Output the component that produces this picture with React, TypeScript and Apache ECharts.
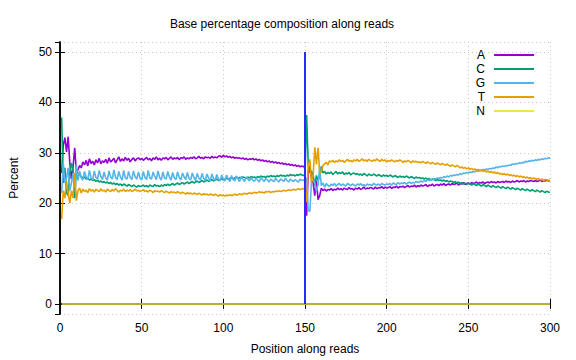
import React, { useEffect, useRef } from "react";
import * as echarts from "echarts";

const titleText = "Base percentage composition along reads";
const baseNames = ["A", "C", "G", "T", "N"];
const baseColors = ["#9400d3", "#009e73", "#56b4e9", "#e69f00", "#f0e442"];
const xTicks = [0, 50, 100, 150, 200, 250, 300];

const aValues = [
  26.0, 31.5, 33.0, 30.2, 33.2, 28.0, 24.8, 27.2, 31.0, 26.3,
  26.6, 27.5, 27.0, 28.2, 27.6, 28.5, 27.4, 28.8, 27.9, 28.3,
  27.6, 28.6, 28.0, 28.9, 27.8, 28.4, 28.1, 28.7, 27.9, 29.0,
  28.2, 28.5, 28.9, 28.0, 28.6, 29.2, 28.3, 28.8, 28.4, 29.1,
  28.5, 28.9, 28.2, 28.7, 29.0, 28.4, 28.8, 29.0, 28.6, 28.9,
  28.5, 28.8, 29.1, 28.6, 28.9, 28.4, 29.0, 28.7, 29.2, 28.6,
  28.9, 28.5, 29.0, 28.8, 29.1, 28.6, 28.9, 29.2, 28.7, 29.0,
  28.8, 29.1, 28.6, 29.0, 28.9, 29.2, 28.7, 29.0, 28.8, 29.1,
  28.9, 29.2, 28.8, 29.0, 29.3, 28.9, 29.1, 28.8, 29.2, 29.0,
  29.1, 28.9, 29.3, 29.0, 29.2, 29.0, 29.3, 29.4, 29.1, 29.5,
  29.2, 29.4, 29.1, 29.3, 29.0, 29.2, 28.9, 29.1, 28.9, 29.0,
  28.8, 29.0, 28.7, 28.9, 28.6, 28.8, 28.7, 28.9, 28.6, 28.8,
  28.5, 28.7, 28.4, 28.6, 28.3, 28.5, 28.2, 28.4, 28.1, 28.3,
  28.0, 28.2, 27.9, 28.1, 27.8, 28.0, 27.7, 27.9, 27.6, 27.8,
  27.5, 27.7, 27.4, 27.6, 27.3, 27.5, 27.2, 27.4, 27.3, 27.0,
  17.5, 26.5, 27.3, 25.0, 24.0, 21.5, 24.5, 20.7, 21.5, 23.0,
  22.5, 22.8, 22.4, 22.7, 22.6, 22.9, 22.5, 22.8, 22.6, 23.0,
  22.7, 22.9, 22.6, 23.0, 22.8, 22.7, 23.1, 22.8, 22.9, 22.6,
  23.0, 22.8, 23.1, 22.7, 22.9, 23.2, 22.8, 23.0, 22.9, 23.1,
  23.0, 22.8, 23.2, 22.9, 23.1, 23.0, 23.3, 22.9, 23.2, 23.0,
  23.1, 23.3, 22.9, 23.2, 23.1, 23.4, 23.0, 23.3, 23.2, 23.4,
  23.1, 23.3, 23.5, 23.2, 23.4, 23.3, 23.6, 23.2, 23.5, 23.3,
  23.6, 23.4, 23.5, 23.7, 23.3, 23.6, 23.5, 23.8, 23.4, 23.6,
  23.7, 23.5, 23.8, 23.6, 23.9, 23.5, 23.7, 23.8, 23.6, 23.9,
  23.7, 23.8, 24.0, 23.6, 23.9, 23.8, 24.1, 23.7, 23.9, 24.0,
  23.8, 24.1, 23.9, 24.0, 24.2, 23.9, 24.1, 24.0, 24.2, 23.9,
  24.1, 24.2, 24.0, 24.3, 24.1, 24.2, 24.0, 24.3, 24.1, 24.2,
  24.3, 24.1, 24.4, 24.2, 24.3, 24.1, 24.4, 24.2, 24.3, 24.5,
  24.2, 24.4, 24.3, 24.5, 24.2, 24.4, 24.3, 24.5, 24.4, 24.3,
  24.5, 24.3, 24.4, 24.6, 24.3, 24.5, 24.4, 24.6, 24.4, 24.5,
];

const cValues = [
  37.0, 24.0, 27.0, 22.0, 21.5, 26.0, 28.0, 26.5, 21.0, 26.5,
  26.0, 25.6, 25.3, 25.0, 25.2, 24.8, 25.0, 24.6, 24.8, 24.5,
  24.7, 24.3, 24.6, 24.2, 24.4, 24.1, 24.3, 24.0, 24.2, 23.9,
  24.1, 23.8, 24.0, 23.7, 23.9, 23.6, 23.8, 23.5, 23.8, 23.6,
  23.4, 23.7, 23.5, 23.3, 23.6, 23.4, 23.2, 23.5, 23.3, 23.4,
  23.6, 23.3, 23.5, 23.2, 23.6, 23.4, 23.3, 23.7, 23.4, 23.5,
  23.3, 23.6, 23.4, 23.7, 23.5, 23.8, 23.5, 23.7, 23.9, 23.6,
  23.8, 24.0, 23.7, 23.9, 24.1, 23.8, 24.0, 24.2, 23.9, 24.1,
  24.3, 24.0, 24.2, 24.4, 24.1, 24.3, 24.5, 24.2, 24.4, 24.6,
  24.3, 24.5, 24.7, 24.4, 24.6, 24.8, 24.5, 24.7, 24.9, 24.6,
  24.8, 25.0, 24.7, 24.9, 25.1, 24.8, 25.0, 25.2, 24.9, 25.1,
  25.0, 25.2, 25.1, 24.9, 25.2, 25.0, 25.3, 25.1, 25.2, 25.0,
  25.3, 25.1, 25.4, 25.2, 25.3, 25.1, 25.4, 25.2, 25.5, 25.3,
  25.4, 25.2, 25.5, 25.3, 25.6, 25.4, 25.5, 25.3, 25.6, 25.4,
  25.7, 25.5, 25.6, 25.4, 25.7, 25.5, 25.8, 25.6, 25.5, 25.7,
  37.5, 27.5, 26.0, 26.4, 25.5, 23.5, 25.5, 24.5, 25.5, 27.3,
  26.0, 26.3, 25.8, 26.1, 25.9, 26.2, 25.7, 26.0, 26.3, 25.8,
  26.1, 25.9, 26.2, 25.7, 26.0, 25.8, 26.1, 25.6, 25.9, 26.0,
  25.7, 25.9, 25.6, 25.8, 25.5, 25.9, 25.7, 25.4, 25.8, 25.6,
  25.5, 25.8, 25.6, 25.4, 25.7, 25.5, 25.3, 25.6, 25.4, 25.5,
  25.3, 25.6, 25.4, 25.2, 25.5, 25.3, 25.1, 25.4, 25.2, 25.3,
  25.1, 25.4, 25.2, 25.0, 25.3, 25.1, 24.9, 25.2, 25.0, 25.1,
  24.9, 25.0, 24.8, 25.0, 24.7, 24.9, 24.6, 24.8, 24.7, 24.5,
  24.7, 24.5, 24.6, 24.4, 24.6, 24.3, 24.5, 24.2, 24.4, 24.3,
  24.1, 24.3, 24.0, 24.2, 23.9, 24.1, 23.8, 24.0, 23.7, 23.9,
  23.8, 23.6, 23.9, 23.7, 23.5, 23.8, 23.6, 23.4, 23.7, 23.5,
  23.3, 23.6, 23.4, 23.2, 23.5, 23.3, 23.1, 23.4, 23.2, 23.0,
  23.3, 23.1, 22.9, 23.2, 23.0, 22.8, 23.1, 22.9, 22.7, 23.0,
  22.8, 22.6, 22.9, 22.7, 22.5, 22.8, 22.6, 22.4, 22.7, 22.5,
  22.3, 22.6, 22.4, 22.2, 22.5, 22.3, 22.1, 22.4, 22.2, 22.1,
];

const gValues = [
  22.0, 28.0, 24.0, 25.0, 27.0, 22.5, 24.0, 26.0, 23.5, 27.7,
  24.5, 26.4, 25.0, 24.6, 26.3, 25.2, 24.7, 26.5, 25.0, 24.6,
  26.4, 25.1, 24.8, 26.5, 25.3, 24.7, 26.2, 25.0, 24.6, 26.4,
  25.2, 24.8, 26.6, 25.1, 24.7, 26.3, 25.2, 24.6, 26.5, 25.0,
  24.8, 26.3, 25.1, 24.7, 26.4, 25.2, 24.8, 26.2, 25.0, 24.6,
  26.3, 25.1, 24.7, 26.5, 25.0, 24.8, 26.2, 25.3, 24.7, 26.4,
  25.1, 24.6, 26.2, 25.0, 24.8, 26.3, 25.2, 24.6, 26.1, 25.0,
  24.7, 26.2, 25.1, 24.6, 26.0, 25.2, 24.7, 26.1, 24.9, 24.6,
  26.0, 25.1, 24.5, 25.9, 25.0, 24.6, 25.9, 24.9, 24.5, 25.8,
  25.0, 24.4, 25.8, 24.9, 24.5, 25.7, 24.8, 24.4, 25.6, 24.9,
  24.4, 25.6, 24.8, 24.3, 25.5, 24.7, 24.4, 25.4, 24.8, 24.3,
  25.3, 24.7, 24.3, 25.2, 24.8, 24.4, 25.1, 24.6, 24.3, 25.0,
  24.6, 24.2, 25.0, 24.7, 24.3, 24.9, 24.6, 24.2, 24.8, 24.5,
  24.3, 24.9, 24.5, 24.2, 24.8, 24.6, 24.3, 24.9, 24.5, 24.2,
  24.8, 24.5, 24.3, 24.7, 24.4, 24.2, 24.8, 24.5, 24.6, 24.4,
  25.0, 18.5, 18.4, 24.5, 24.7, 24.0, 22.3, 23.7, 27.0, 23.5,
  24.0, 23.2, 23.9, 23.6, 23.3, 23.8, 23.5, 23.9, 23.4, 23.7,
  23.9, 23.5, 23.8, 23.6, 23.4, 23.9, 23.7, 23.5, 23.8, 23.6,
  23.4, 23.8, 23.6, 23.9, 23.5, 23.7, 23.4, 23.8, 23.6, 23.7,
  23.5, 23.9, 23.7, 23.6, 23.8, 23.5, 23.9, 23.7, 23.6, 23.8,
  23.7, 23.9, 23.6, 24.0, 23.8, 23.7, 24.1, 23.8, 24.0, 23.9,
  24.1, 23.8, 24.0, 24.2, 23.9, 24.1, 24.0, 24.3, 24.1, 24.2,
  24.4, 24.2, 24.5, 24.3, 24.6, 24.5, 24.7, 24.6, 24.9, 24.8,
  25.0, 24.9, 25.1, 25.0, 25.3, 25.1, 25.4, 25.2, 25.5, 25.4,
  25.6, 25.5, 25.7, 25.6, 25.9, 25.7, 26.0, 25.9, 26.1, 26.0,
  26.2, 26.1, 26.3, 26.2, 26.5, 26.3, 26.6, 26.5, 26.7, 26.6,
  26.8, 26.7, 26.9, 26.8, 27.0, 26.9, 27.2, 27.0, 27.3, 27.2,
  27.4, 27.3, 27.5, 27.4, 27.6, 27.5, 27.8, 27.7, 27.9, 27.8,
  28.0, 27.9, 28.1, 28.0, 28.3, 28.2, 28.4, 28.3, 28.5, 28.4,
  28.6, 28.5, 28.7, 28.6, 28.8, 28.7, 28.9, 28.8, 29.0, 29.0,
];

const tValues = [
  16.8, 22.5, 21.0, 24.5, 22.0, 20.0, 22.5, 21.0, 26.0, 20.5,
  22.5, 23.0, 22.0, 22.8, 22.3, 22.6, 22.1, 22.9, 22.4, 22.7,
  22.2, 22.8, 22.5, 22.3, 22.9, 22.4, 22.6, 22.2, 22.8, 22.5,
  22.3, 22.7, 22.4, 22.9, 22.5, 22.2, 22.6, 22.4, 22.8, 22.3,
  22.6, 22.4, 22.7, 22.3, 22.5, 22.8, 22.4, 22.6, 22.3, 22.5,
  22.7, 22.3, 22.5, 22.2, 22.6, 22.4, 22.1, 22.5, 22.3, 22.4,
  22.2, 22.5, 22.3, 22.1, 22.4, 22.2, 22.0, 22.3, 22.1, 22.2,
  22.0, 22.3, 22.1, 21.9, 22.2, 22.0, 21.8, 22.1, 21.9, 22.0,
  21.8, 22.0, 21.9, 21.7, 22.0, 21.8, 21.6, 21.9, 21.7, 21.8,
  21.6, 21.8, 21.7, 21.5, 21.8, 21.6, 21.4, 21.7, 21.5, 21.6,
  21.4, 21.6, 21.5, 21.7, 21.5, 21.6, 21.8, 21.6, 21.7, 21.9,
  21.7, 21.8, 22.0, 21.8, 21.9, 22.1, 21.9, 22.0, 22.2, 22.0,
  22.1, 22.3, 22.1, 22.2, 22.0, 22.3, 22.2, 22.4, 22.1, 22.3,
  22.2, 22.4, 22.3, 22.5, 22.3, 22.4, 22.6, 22.4, 22.5, 22.7,
  22.5, 22.6, 22.8, 22.6, 22.7, 22.9, 22.7, 22.8, 22.9, 22.8,
  20.2, 27.5, 28.7, 24.0, 25.7, 31.1, 27.7, 31.0, 26.0, 26.2,
  27.5, 27.8, 28.1, 27.6, 28.4, 28.2, 28.5, 28.1, 28.4, 28.2,
  28.6, 28.3, 28.5, 28.1, 28.4, 28.7, 28.3, 28.5, 28.2, 28.6,
  28.4, 28.7, 28.3, 28.5, 28.8, 28.4, 28.6, 28.3, 28.7, 28.5,
  28.3, 28.6, 28.4, 28.8, 28.5, 28.3, 28.7, 28.4, 28.6, 28.2,
  28.5, 28.3, 28.6, 28.4, 28.2, 28.5, 28.3, 28.6, 28.4, 28.1,
  28.4, 28.2, 28.5, 28.3, 28.0, 28.4, 28.2, 28.3, 28.1, 28.2,
  28.0, 28.3, 28.1, 27.9, 28.2, 28.0, 27.8, 28.1, 27.9, 27.7,
  28.0, 27.8, 27.6, 27.9, 27.7, 27.5, 27.8, 27.5, 27.3, 27.6,
  27.4, 27.2, 27.5, 27.3, 27.0, 27.2, 26.9, 27.1, 26.8, 27.0,
  26.7, 26.9, 26.6, 26.8, 26.5, 26.7, 26.4, 26.6, 26.3, 26.5,
  26.2, 26.4, 26.1, 26.3, 26.0, 26.2, 25.9, 26.1, 25.8, 25.9,
  25.7, 25.9, 25.6, 25.8, 25.5, 25.7, 25.4, 25.6, 25.3, 25.5,
  25.2, 25.4, 25.1, 25.3, 25.0, 25.2, 24.9, 25.1, 24.8, 25.0,
  24.9, 24.7, 24.9, 24.6, 24.8, 24.5, 24.7, 24.6, 24.5, 24.6,
];

const nValues = [
  0, 0, 0, 0, 0, 0, 0, 0, 0, 0, 0, 0, 0, 0, 0, 0, 0, 0, 0, 0,
  0, 0, 0, 0, 0, 0, 0, 0, 0, 0, 0, 0, 0, 0, 0, 0, 0, 0, 0, 0,
  0, 0, 0, 0, 0, 0, 0, 0, 0, 0, 0, 0, 0, 0, 0, 0, 0, 0, 0, 0,
  0, 0, 0, 0, 0, 0, 0, 0, 0, 0, 0, 0, 0, 0, 0, 0, 0, 0, 0, 0,
  0, 0, 0, 0, 0, 0, 0, 0, 0, 0, 0, 0, 0, 0, 0, 0, 0, 0, 0, 0,
  0, 0, 0, 0, 0, 0, 0, 0, 0, 0, 0, 0, 0, 0, 0, 0, 0, 0, 0, 0,
  0, 0, 0, 0, 0, 0, 0, 0, 0, 0, 0, 0, 0, 0, 0, 0, 0, 0, 0, 0,
  0, 0, 0, 0, 0, 0, 0, 0, 0, 0, 0, 0, 0, 0, 0, 0, 0, 0, 0, 0,
  0, 0, 0, 0, 0, 0, 0, 0, 0, 0, 0, 0, 0, 0, 0, 0, 0, 0, 0, 0,
  0, 0, 0, 0, 0, 0, 0, 0, 0, 0, 0, 0, 0, 0, 0, 0, 0, 0, 0, 0,
  0, 0, 0, 0, 0, 0, 0, 0, 0, 0, 0, 0, 0, 0, 0, 0, 0, 0, 0, 0,
  0, 0, 0, 0, 0, 0, 0, 0, 0, 0, 0, 0, 0, 0, 0, 0, 0, 0, 0, 0,
  0, 0, 0, 0, 0, 0, 0, 0, 0, 0, 0, 0, 0, 0, 0, 0, 0, 0, 0, 0,
  0, 0, 0, 0, 0, 0, 0, 0, 0, 0, 0, 0, 0, 0, 0, 0, 0, 0, 0, 0,
  0, 0, 0, 0, 0, 0, 0, 0, 0, 0, 0, 0, 0, 0, 0, 0, 0, 0, 0, 0,
];

// read boundary marker (position 150, from 0 to 50 %)
const boundaryX = [150, 150];
const boundaryY = [0, 50];

const allValues = [aValues, cValues, gValues, tValues, nValues];

const FONT = "Liberation Sans, Arial, sans-serif";

export default function App() {
  const ref = useRef<HTMLDivElement>(null);
  useEffect(() => {
    if (!ref.current) return;
    const chart = echarts.init(ref.current, null, { renderer: "svg" });
    const gridLine = { show: true, lineStyle: { color: "#c8c8c8", type: [1, 3] as any, width: 1 } };
    const baseSeries = baseNames.map((name, k) => ({
      name,
      type: "line",
      data: allValues[k].map((v, i) => [i + 1, v]),
      symbol: "none",
      showSymbol: false,
      lineStyle: { color: baseColors[k], width: 1.6 },
      itemStyle: { color: baseColors[k] },
      xAxisIndex: 0,
      yAxisIndex: 0,
      z: 2 + k,
    }));
    const option: any = {
      animation: false,
      backgroundColor: "#ffffff",
      title: {
        text: titleText,
        left: 277,
        top: 13,
        textAlign: "center",
        textStyle: { fontFamily: FONT, fontSize: 12, fontWeight: "normal", color: "#000" },
      },
      legend: {
        data: baseNames,
        orient: "vertical",
        right: 37,
        top: 44,
        align: "right",
        itemWidth: 40,
        itemHeight: 12,
        itemGap: 2,
        icon: "path://M0,5 L40,5 L40,7 L0,7 Z",
        textStyle: { fontFamily: FONT, fontSize: 12, color: "#000", lineHeight: 12, padding: [0, 4, 0, 0] },
      },
      grid: { left: 60, right: 26, top: 42, bottom: 46, containLabel: false },
      xAxis: [
        {
          type: "value",
          min: 0,
          max: 300,
          interval: 50,
          name: "Position along reads",
          nameLocation: "middle",
          nameGap: 29,
          nameTextStyle: { fontFamily: FONT, fontSize: 12, color: "#000" },
          axisLine: { show: true, lineStyle: { color: "#000", width: 1.5 } },
          axisTick: { show: true, inside: true, length: 5, lineStyle: { color: "#000" } },
          axisLabel: { fontFamily: FONT, fontSize: 12, color: "#000", margin: 8 },
          splitLine: gridLine,
        },
        {
          type: "value",
          position: "top",
          min: 0,
          max: 300,
          interval: 50,
          axisLine: { show: true, lineStyle: { color: "#000", width: 1.5 } },
          axisTick: { show: true, inside: true, length: 5, lineStyle: { color: "#000" } },
          axisLabel: { show: false },
          splitLine: { show: false },
        },
      ],
      yAxis: [
        {
          type: "value",
          min: -2,
          max: 52,
          splitNumber: 5,
          name: "Percent",
          nameLocation: "middle",
          nameGap: 40,
          nameTextStyle: { fontFamily: FONT, fontSize: 12, color: "#000" },
          axisLine: { show: true, lineStyle: { color: "#000", width: 1.5 } },
          axisTick: { show: true, inside: true, length: 5, lineStyle: { color: "#000" } },
          axisLabel: {
            fontFamily: FONT,
            fontSize: 12,
            color: "#000",
            margin: 8,
            showMinLabel: false,
            showMaxLabel: false,
            formatter: (v: number) => (v % 10 === 0 ? String(v) : ""),
          },
          splitLine: gridLine,
        },
        {
          type: "value",
          position: "right",
          min: -2,
          max: 52,
          splitNumber: 5,
          axisLine: { show: true, lineStyle: { color: "#000", width: 1.5 } },
          axisTick: { show: true, inside: true, length: 5, lineStyle: { color: "#000" } },
          axisLabel: { show: false },
          splitLine: { show: false },
        },
      ],
      series: [
        ...baseSeries,
        {
          name: "boundary",
          type: "line",
          data: boundaryX.map((x, i) => [x, boundaryY[i]]),
          symbol: "none",
          lineStyle: { color: "#2a2aff", width: 2 },
          xAxisIndex: 0,
          yAxisIndex: 0,
          z: 10,
        },
      ],
    };
    chart.setOption(option);
    return () => chart.dispose();
  }, []);
  return <div ref={ref} style={{ width: 576, height: 360, position: "absolute", left: 0, top: 0 }} />;
}
